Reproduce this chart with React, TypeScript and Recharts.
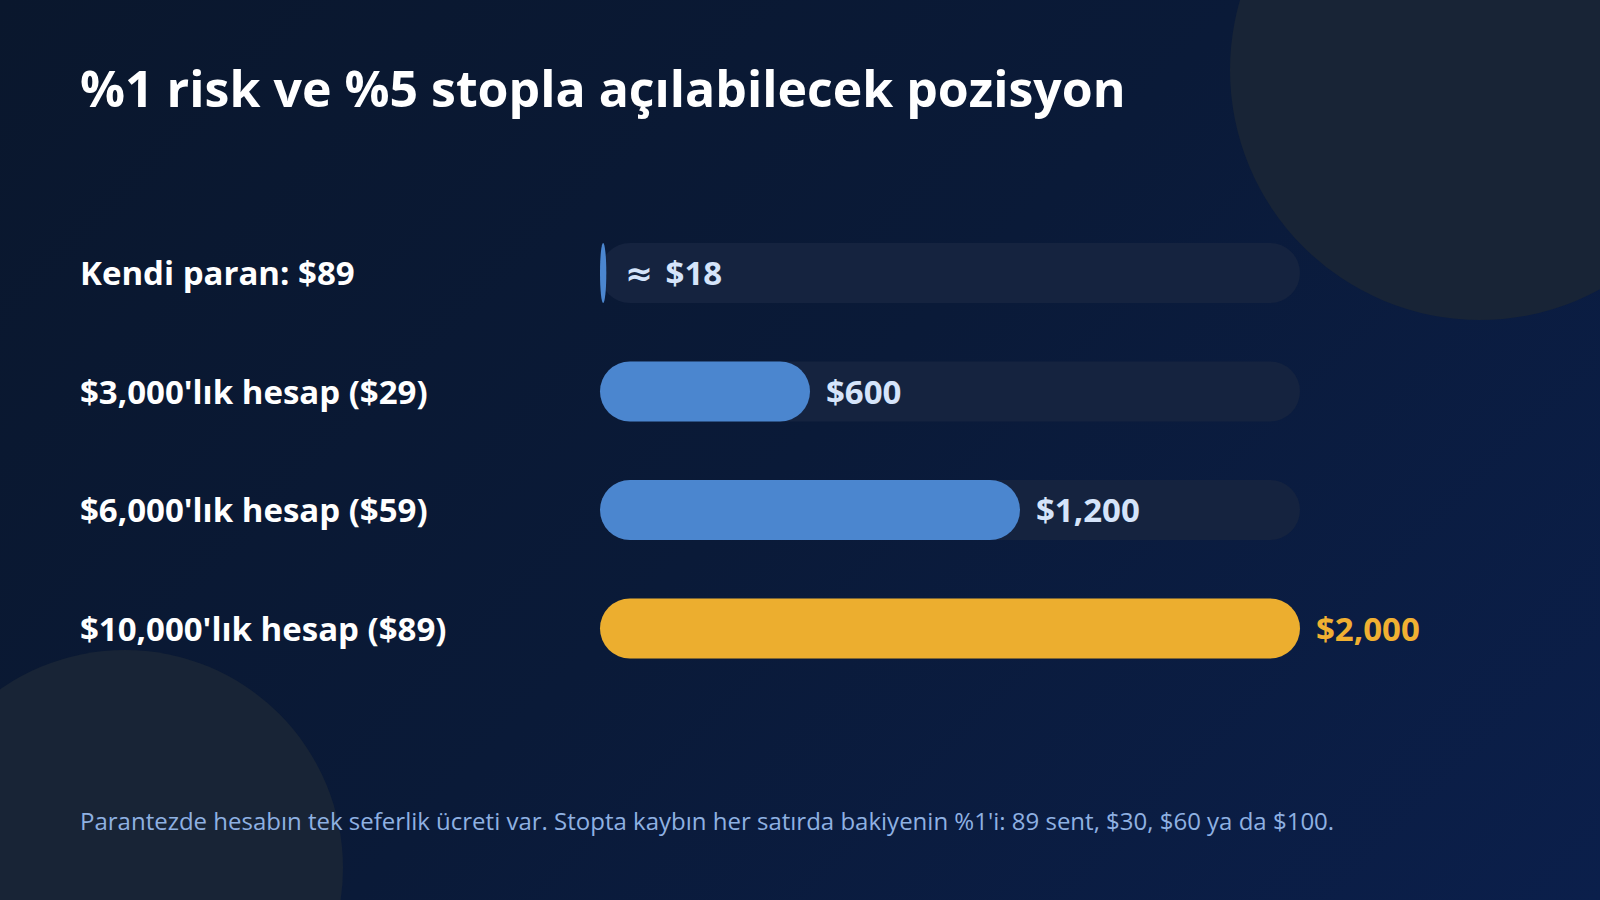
import React from "react";
import { BarChart, Bar, XAxis, YAxis, Cell, LabelList } from "recharts";

const categories = [
  "Kendi paran: $89",
  "$3,000'lık hesap ($29)",
  "$6,000'lık hesap ($59)",
  "$10,000'lık hesap ($89)",
];
const positionValues = [18, 600, 1200, 2000];
const valueLabels = ["≈ $18", "$600", "$1,200", "$2,000"];
const barColors = ["#4b86cf", "#4b86cf", "#4b86cf", "#ecae2f"];
const labelColors = ["#d5e4fa", "#d5e4fa", "#d5e4fa", "#f0b032"];
const xDomain = [0, 2000];

const title = "%1 risk ve %5 stopla açılabilecek pozisyon";
const footnote =
  "Parantezde hesabın tek seferlik ücreti var. Stopta kaybın her satırda bakiyenin %1'i: 89 sent, $30, $60 ya da $100.";

const data = categories.map((name, i) => ({
  name,
  value: positionValues[i],
  label: valueLabels[i],
  color: barColors[i],
  labelColor: labelColors[i],
}));

const FONT = "'Open Sans', 'DejaVu Sans', sans-serif";

const PillShape = (props: any) => {
  const { x, y, width, height, fill } = props;
  return <rect x={x} y={y} width={width} height={height} rx={30} ry={30} fill={fill} />;
};

const YTick = (props: any) => {
  const { y, payload } = props;
  return (
    <text
      x={80}
      y={y}
      dy={12}
      textAnchor="start"
      fill="#ffffff"
      fontFamily={FONT}
      fontWeight={700}
      fontSize={33}
    >
      {payload.value}
    </text>
  );
};

const ValueLabel = (props: any) => {
  const { x, y, width, height, index } = props;
  const d = data[index];
  const approx = d.label.startsWith("≈");
  return (
    <text
      x={x + width + 16}
      y={y + height / 2}
      dy={12}
      textAnchor="start"
      fill={d.labelColor}
      fontFamily={FONT}
      fontWeight={700}
      fontSize={33}
    >
      {approx ? (
        <>
          <tspan fontFamily="'DejaVu Sans', sans-serif" dx={3}>≈</tspan>
          <tspan dx={4}>{d.label.slice(1)}</tspan>
        </>
      ) : (
        d.label
      )}
    </text>
  );
};

export default function App() {
  return (
    <div
      style={{
        position: "fixed",
        left: 0,
        top: 0,
        width: 1600,
        height: 900,
        overflow: "hidden",
        background: "linear-gradient(135deg, #0a172d 0%, #0a1a38 50%, #0b1f4b 100%)",
        fontFamily: FONT,
      }}
    >
      <svg width={1600} height={900} style={{ position: "absolute", left: 0, top: 0 }}>
        <circle cx={1480} cy={70} r={250} fill="#182436" />
        <circle cx={125} cy={868} r={218} fill="#182436" />
      </svg>
      <div
        style={{
          position: "absolute",
          left: 80,
          top: 53,
          color: "#ffffff",
          fontWeight: 700,
          fontSize: 50,
          lineHeight: "70px",
          whiteSpace: "nowrap",
        }}
      >
        {title}
      </div>
      <div style={{ position: "absolute", left: 0, top: 0 }}>
        <BarChart
          width={1600}
          height={900}
          data={data}
          layout="vertical"
          margin={{ top: 214, right: 300, bottom: 212, left: 0 }}
        >
          <XAxis type="number" domain={xDomain} hide />
          <YAxis
            type="category"
            dataKey="name"
            width={600}
            axisLine={false}
            tickLine={false}
            tick={<YTick />}
          />
          <Bar
            dataKey="value"
            barSize={60}
            isAnimationActive={false}
            shape={<PillShape />}
            background={{ fill: "#15233f", radius: 30 }}
          >
            {data.map((d, i) => (
              <Cell key={i} fill={d.color} />
            ))}
            <LabelList dataKey="label" content={<ValueLabel />} />
          </Bar>
        </BarChart>
      </div>
      <div
        style={{
          position: "absolute",
          left: 80,
          top: 805,
          color: "#8fb1e2",
          fontSize: 24,
          lineHeight: "32px",
          whiteSpace: "nowrap",
        }}
      >
        {footnote}
      </div>
    </div>
  );
}
